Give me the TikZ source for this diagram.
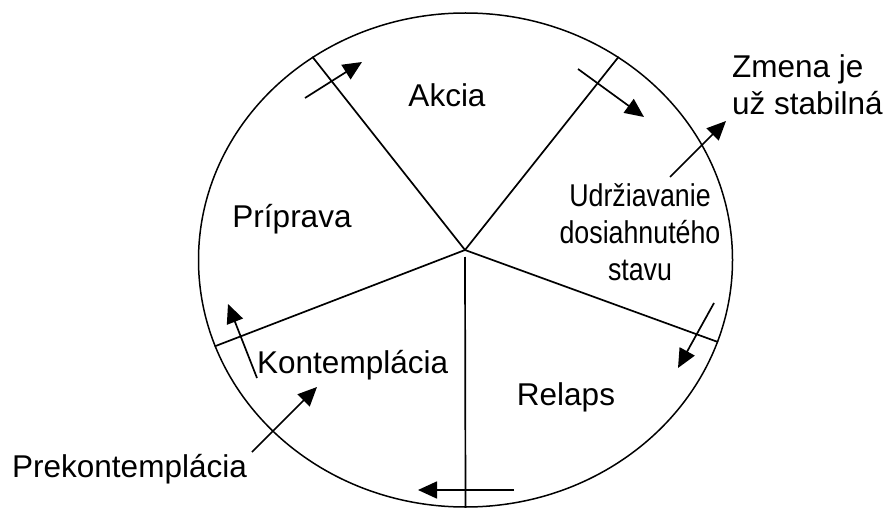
\documentclass[tikz,border=0pt]{standalone}
\usepackage{fontspec}
\setmainfont{Liberation Sans}
\usetikzlibrary{arrows.meta,shapes.geometric}

\begin{document}
\begin{tikzpicture}
[
    x=1pt, y=-1pt,
    spoke/.style={line width=1.7pt},
    move/.style={line width=1.7pt, -{Triangle[length=19pt,width=17pt]}},
    stage/.style={font=\fontsize{31.5}{37}\selectfont, inner sep=0pt, anchor=base},
]
\useasboundingbox (0,0) rectangle (889,508);
\node [draw, line width=1.5pt, ellipse, inner sep=0pt,
       minimum width=534pt, minimum height=494pt] (wheel) at (465.5,260) {};
\coordinate (hub) at (465,250);
\coordinate (hubdown) at (465,257);
\draw [spoke] (hub) -- (wheel.127.5);
\draw [spoke] (hub) -- (wheel.53.2);
\draw [spoke] (hub) -- (wheel.-18.2);
\draw [spoke] (hub) -- (wheel.199);
\draw [spoke] (hubdown) -- (wheel.270);
% stage labels
\node [stage] (akcia) at (447,107) {Akcia};
\node [stage] (priprava) at (292,227) {Príprava};
\node [stage, anchor=north, align=center, transform shape, xscale=0.85]
    (udrz) at (640,183) {Udržiavanie\\dosiahnutého\\stavu};
\node [stage, anchor=base west] (kontempl) at (257,373) {Kontemplácia};
\node [stage] (relaps) at (566,405) {Relaps};
\node [stage, anchor=base west] (prekontempl) at (12,477) {Prekontemplácia};
\node [stage, anchor=north west, align=left] (zmena) at (732,54)
    {Zmena je\\už stabilná};
% arrows between stages
\coordinate (a1) at (305,98);   \coordinate (b1) at (362,62);
\coordinate (a2) at (578,69);   \coordinate (b2) at (644,117);
\coordinate (a3) at (670,177);  \coordinate (b3) at (726,121);
\coordinate (a4) at (714,303);  \coordinate (b4) at (678,368);
\coordinate (a5) at (514,490);  \coordinate (b5) at (418,490);
\coordinate (a6) at (252,452);  \coordinate (b6) at (317,387);
\coordinate (a7) at (257,378);  \coordinate (b7) at (228,304);
\foreach \i in {1,...,7}
    \draw [move] (a\i) -- (b\i);
\end{tikzpicture}
\end{document}
